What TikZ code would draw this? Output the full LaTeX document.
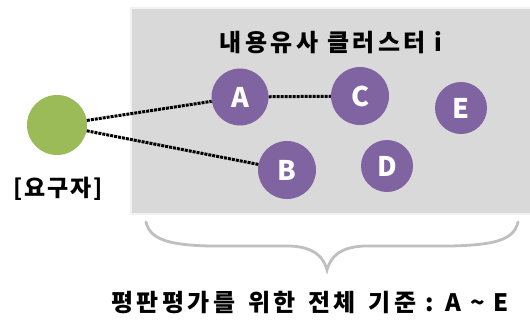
\documentclass[tikz,border=0pt]{standalone}
\usepackage{fontspec}
\setmainfont{Noto Sans CJK KR}
\newfontfamily\krsp[LetterSpace=14]{Noto Sans CJK KR}
\newfontfamily\krspw[LetterSpace=8]{Noto Sans CJK KR}
\begin{document}
\begin{tikzpicture}[x=1pt,y=-1pt,
  member/.style={circle,fill=purp,draw=none,text=white,font=\bfseries\fontsize{27}{27}\selectfont,inner sep=0pt},
  link/.style={densely dotted,line width=3pt,black},
  lbl/.style={font=\krsp\bfseries\fontsize{24}{26}\selectfont, text=black}]
\definecolor{purp}{HTML}{8064A2}
\definecolor{grn}{HTML}{9BBB59}
\definecolor{boxgray}{HTML}{D9D9D9}
\definecolor{bracegray}{HTML}{BFBFBF}
\useasboundingbox (0,0) rectangle (530,322);
\fill[white] (0,0) rectangle (530,322);
\node[draw=white!90!gray,line width=1.5pt,fill=boxgray,minimum width=402pt,minimum height=206pt,anchor=north west,inner sep=0pt] (box) at (130,7) {};
\node[lbl] (title) at (331,43) {내용유사 클러스터 i};
\node[circle,fill=grn,minimum size=60pt,inner sep=0pt] (req) at (57,125) {};
\node[lbl,font=\krspw\bfseries\fontsize{23}{25}\selectfont] (reql) at (58,189) {[요구자]};
\node[member,minimum size=57pt] (A) at (240,97) {A};
\node[member,minimum size=58pt] (C) at (360,96) {C};
\node[member,minimum size=52pt] (E) at (461,108) {E};
\node[member,minimum size=58pt] (B) at (287,170) {B};
\node[member,minimum size=52pt] (D) at (387,166) {D};
\draw[link] (req) -- (A);
\draw[link] (req) -- (B);
\draw[link] (A) -- (C);
\draw[bracegray,line width=2.8pt,line cap=round]
  (146,222) .. controls (150,240) and (170,245) .. (210,246)
  -- (290,246) .. controls (315,247) and (324,258) .. (327,270)
  .. controls (330,258) and (339,247) .. (364,246)
  -- (450,246) .. controls (495,245) and (514,240) .. (518,222);
\coordinate (tip) at (327,270);
\node[lbl] (foot) at (310,303) {평판평가를\hspace{4pt} 위한\hspace{4pt} 전체\hspace{4pt} 기준 : A \textasciitilde{} E};
\end{tikzpicture}
\end{document}
